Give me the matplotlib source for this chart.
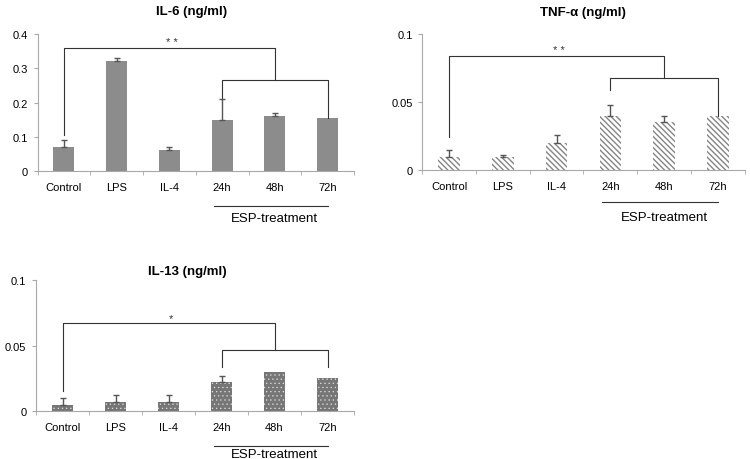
import matplotlib
matplotlib.use('Agg')
import matplotlib.pyplot as plt
import numpy as np

plt.rcParams['font.family'] = ['Liberation Sans', 'DejaVu Sans']

# Data
groups = ['Control', 'LPS', 'IL-4', '24h', '48h', '72h']

il6 = [0.07, 0.32, 0.06, 0.15, 0.16, 0.155]
il6_err = [0.02, 0.01, 0.01, 0.06, 0.01, 0.0]

tnf = [0.01, 0.01, 0.02, 0.04, 0.035, 0.04]
tnf_err = [0.005, 0.001, 0.006, 0.008, 0.005, 0.0]

il13 = [0.005, 0.007, 0.007, 0.022, 0.03, 0.025]
il13_err = [0.005, 0.005, 0.005, 0.005, 0.0, 0.0]

# significance brackets: (outer y, control leg end, inner y, 24h leg end, 72h leg end)
il6_sig = (0.36, 0.105, 0.265, 0.21, 0.155)
tnf_sig = (0.084, 0.024, 0.068, 0.059, 0.04)
il13_sig = (0.067, 0.015, 0.047, 0.034, 0.034)
stars = ['* *', '* *', '*']

axis_col = '#a8a8a8'
line_col = '#333333'

fig = plt.figure(figsize=(7.5, 4.6), dpi=100)
ax1 = fig.add_axes([0.050, 0.626, 0.422, 0.298])
ax2 = fig.add_axes([0.563, 0.628, 0.430, 0.296])
ax3 = fig.add_axes([0.048, 0.104, 0.424, 0.285])

panels = [
    (ax1, il6, il6_err, il6_sig, 0.4, [0, 0.1, 0.2, 0.3, 0.4], ['0', '0.1', '0.2', '0.3', '0.4'],
     dict(color='#8c8c8c', linewidth=0), 1.0, -0.255, -0.34),
    (ax2, tnf, tnf_err, tnf_sig, 0.1, [0, 0.05, 0.1], ['0', '0.05', '0.1'],
     dict(color='white', edgecolor='#858585', hatch='\\\\\\\\\\\\', linewidth=0), 1.0, -0.235, -0.345),
    (ax3, il13, il13_err, il13_sig, 0.1, [0, 0.05, 0.1], ['0', '0.05', '0.1'],
     dict(color='#767676', edgecolor='#e0e0e0', hatch='....', linewidth=0), 0.4, -0.267, -0.33),
]

x = np.arange(len(groups))
for i, (ax, vals, err, sig, ymax, yt, ytl, style, hlw, ly, ty) in enumerate(panels):
    with plt.rc_context({'hatch.linewidth': hlw}):
        bars = ax.bar(x, vals, width=0.4, **style, zorder=2)
    for b in bars:
        if hasattr(b, 'set_hatch_linewidth'):
            b.set_hatch_linewidth(hlw)
    err = np.array(err)
    m = err > 0
    ax.errorbar(x[m], np.array(vals)[m], yerr=[np.zeros(m.sum()), err[m]], fmt='none',
                ecolor='#555555', elinewidth=1, capsize=2.5, capthick=1, zorder=3)
    ax.set_xlim(-0.5, 5.5)
    ax.set_ylim(0, ymax)
    ax.set_yticks(yt)
    ax.set_yticklabels(ytl, fontsize=8)
    ax.set_xticks(x)
    ax.set_xticklabels(groups, fontsize=8)
    ax.set_xticks(np.arange(-0.5, 6, 1), minor=True)
    ax.tick_params(axis='x', which='major', length=0, pad=8)
    ax.tick_params(axis='x', which='minor', length=3, color=axis_col)
    ax.tick_params(axis='y', length=3, color=axis_col, pad=4)
    for s in ['top', 'right']:
        ax.spines[s].set_visible(False)
    for s in ['left', 'bottom']:
        ax.spines[s].set_color(axis_col)
        ax.spines[s].set_linewidth(0.8)

    # brackets
    oy, lb, iy, l24, l72 = sig
    ax.plot([0, 0, 4, 4], [lb, oy, oy, iy], color=line_col, lw=0.8, clip_on=False)
    ax.plot([3, 3, 5, 5], [l24, iy, iy, l72], color=line_col, lw=0.8, clip_on=False)
    ax.text(2.05, oy + ymax * 0.005, stars[i], ha='center', va='bottom', fontsize=8, color=line_col)

    # ESP-treatment line
    tr = ax.get_xaxis_transform()
    ax.plot([2.85, 5.0], [ly, ly], color=line_col, lw=0.8, transform=tr, clip_on=False)
    ax.text(4.0, ty, 'ESP-treatment', transform=tr, ha='center', va='center', fontsize=9.5)

fig.text(0.256, 0.975, 'IL-6 (ng/ml)', ha='center', va='center', fontsize=9.5, fontweight='bold')
fig.text(0.777, 0.972, 'TNF-α (ng/ml)', ha='center', va='center', fontsize=9.5, fontweight='bold')
fig.text(0.25, 0.409, 'IL-13 (ng/ml)', ha='center', va='center', fontsize=9.5, fontweight='bold')

plt.savefig('out.png', dpi=100)
